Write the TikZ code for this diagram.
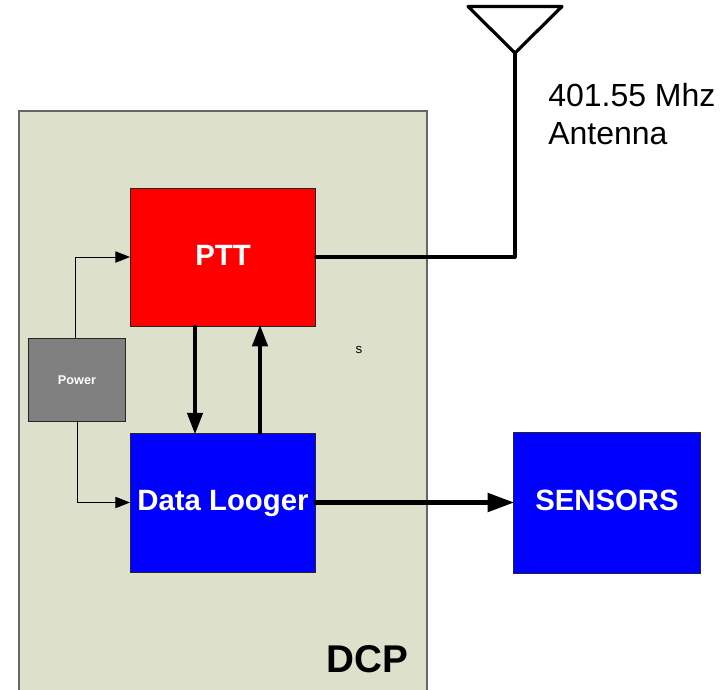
\documentclass[tikz,border=0pt]{standalone}
\usepackage{fontspec}
\setmainfont{Liberation Sans}
\usetikzlibrary{arrows.meta}
\definecolor{dcpgreen}{HTML}{DDE1CB}
\tikzset{
  block/.style={draw=black!85,line width=0.5pt,inner sep=0pt,text height=16pt,text depth=3.7pt,font=\fontsize{22}{26}\selectfont\bfseries,text=white},
  thinline/.style={line width=0.75pt,-{Triangle[length=11pt,width=8.5pt]}},
  busline/.style={line width=2.6pt,line cap=round,shorten >=-1pt,-{Triangle[length=16pt,width=11.5pt]}},
  antline/.style={line width=2.4pt,line cap=round,line join=round},
}
\begin{document}
\begin{tikzpicture}[x=0.75pt,y=-0.75pt]
\useasboundingbox (0,0) rectangle (728,689);
\clip (0,0) rectangle (728,689);
\node[draw=black!60,line width=0.8pt,fill=dcpgreen,minimum width=306pt,minimum height=441pt] (dcp) at (223,405) {};
\node[block,fill=red,minimum width=139pt,minimum height=103.5pt] (ptt) at (223,257) {PTT};
\node[block,fill=blue,minimum width=139pt,minimum height=104pt] (data) at (223,502.5) {Data Looger};
\node[block,fill=blue,minimum width=140.5pt,minimum height=105.5pt] (sensors) at (607,502.5) {SENSORS};
\node[block,fill=black!50,minimum width=73pt,minimum height=62pt,text height=6.8pt,text depth=0pt,font=\fontsize{9.5}{11}\selectfont\bfseries] (power) at (77,379.5) {Power};
\node (dcplabel) at (367,659) {\fontsize{29}{32}\selectfont\bfseries DCP};
\node (s) at (359,350) {\fontsize{10}{12}\selectfont s};
\node[align=left,anchor=north west,inner sep=0pt,font=\fontsize{24}{28.5}\selectfont] (antlabel) at (548,83) {401.55 Mhz\\Antenna};
\coordinate (apex) at (515,53);
\coordinate (antL) at (468,6.5);
\coordinate (antR) at (562,6.5);
\coordinate (corner) at (515,257);
% antenna
\draw[antline] (apex) -- (antL) -- (antR) -- cycle;
\draw[antline] (ptt.east) -- (corner) -- (apex);
% power feeds
\draw[thinline] ([xshift=-1.5pt]power.north) |- (ptt.west);
\draw[thinline] (power.south) |- (data.west);
% links
\draw[busline] ([xshift=-21pt]ptt.south) -- ([xshift=-21pt]data.north);
\draw[busline] ([xshift=27.75pt]data.north) -- ([xshift=27.75pt]ptt.south);
\draw[busline,line width=3.8pt,-{Triangle[length=20pt,width=13.5pt]}] (data.east) -- (sensors.west);
\end{tikzpicture}
\end{document}
